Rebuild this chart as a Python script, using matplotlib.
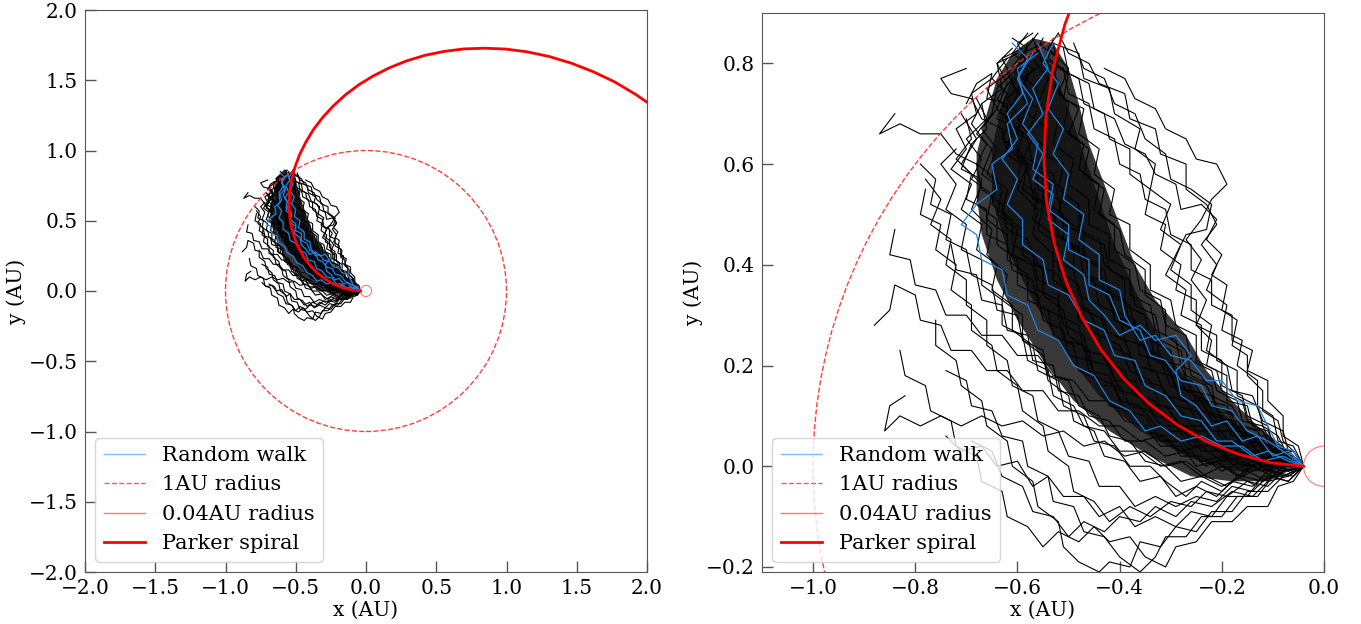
import matplotlib
matplotlib.use("Agg")
import matplotlib.pyplot as plt
from matplotlib.patches import Circle
from matplotlib.lines import Line2D

plt.rcParams['font.family'] = ['DejaVu Serif']
plt.rcParams['font.size'] = 14

# ---------------- data ----------------
walks_black = [
    [(-0.04,0.00),(-0.07,0.02),(-0.10,0.00),(-0.13,0.03),(-0.17,0.02),(-0.20,0.05),(-0.24,0.04),(-0.27,0.08),(-0.31,0.09),(-0.33,0.13),(-0.37,0.14),(-0.39,0.19),(-0.43,0.21),(-0.44,0.26),(-0.48,0.29),(-0.49,0.34),(-0.53,0.37),(-0.53,0.42),(-0.57,0.46),(-0.56,0.51),(-0.60,0.55),(-0.58,0.60),(-0.62,0.64),(-0.59,0.68),(-0.62,0.73),(-0.58,0.77),(-0.59,0.82),(-0.55,0.84)],
    [(-0.04,0.00),(-0.06,0.03),(-0.09,0.02),(-0.11,0.06),(-0.15,0.06),(-0.17,0.10),(-0.21,0.11),(-0.22,0.16),(-0.26,0.18),(-0.27,0.23),(-0.31,0.26),(-0.31,0.31),(-0.35,0.34),(-0.35,0.39),(-0.39,0.42),(-0.40,0.47),(-0.44,0.50),(-0.43,0.55),(-0.47,0.58),(-0.46,0.63),(-0.50,0.66),(-0.48,0.71),(-0.52,0.74),(-0.50,0.79),(-0.54,0.83),(-0.52,0.86)],
    [(-0.04,0.00),(-0.06,0.04),(-0.09,0.05),(-0.10,0.10),(-0.13,0.12),(-0.13,0.17),(-0.17,0.20),(-0.16,0.25),(-0.20,0.27),(-0.19,0.32),(-0.23,0.35),(-0.21,0.40),(-0.24,0.44),(-0.21,0.48),(-0.23,0.52),(-0.27,0.55),(-0.27,0.60),(-0.32,0.62),(-0.33,0.67),(-0.38,0.69),(-0.39,0.74),(-0.44,0.76),(-0.46,0.80),(-0.50,0.82),(-0.52,0.86)],
    [(-0.04,0.00),(-0.07,0.03),(-0.08,0.07),(-0.12,0.09),(-0.14,0.14),(-0.18,0.15),(-0.19,0.20),(-0.23,0.23),(-0.22,0.28),(-0.26,0.31),(-0.26,0.36),(-0.30,0.39),(-0.28,0.44),(-0.32,0.47),(-0.30,0.52),(-0.34,0.55),(-0.33,0.60),(-0.37,0.63),(-0.36,0.67),(-0.41,0.70),(-0.42,0.75),(-0.47,0.77),(-0.48,0.82),(-0.53,0.84)],
    [(-0.04,0.00),(-0.07,-0.02),(-0.11,-0.01),(-0.14,-0.04),(-0.18,-0.03),(-0.21,-0.06),(-0.25,-0.04),(-0.29,-0.06),(-0.32,-0.02),(-0.36,-0.03),(-0.39,0.01),(-0.43,0.02),(-0.45,0.07),(-0.49,0.09),(-0.50,0.14),(-0.54,0.17),(-0.55,0.22),(-0.59,0.25),(-0.59,0.30),(-0.63,0.33),(-0.62,0.38),(-0.66,0.42),(-0.65,0.47),(-0.69,0.51),(-0.67,0.56),(-0.71,0.60),(-0.68,0.65),(-0.71,0.70)],
    [(-0.04,0.00),(-0.08,-0.02),(-0.11,-0.05),(-0.15,-0.05),(-0.18,-0.09),(-0.22,-0.09),(-0.25,-0.13),(-0.29,-0.12),(-0.32,-0.16),(-0.36,-0.15),(-0.38,-0.20),(-0.42,-0.19),(-0.44,-0.21),(-0.48,-0.19),(-0.51,-0.16),(-0.52,-0.11),(-0.56,-0.08),(-0.57,-0.03),(-0.61,0.00),(-0.62,0.05),(-0.66,0.08),(-0.67,0.13),(-0.71,0.16),(-0.72,0.21),(-0.76,0.24),(-0.76,0.29)],
    [(-0.04,0.00),(-0.08,0.00),(-0.11,-0.03),(-0.15,-0.01),(-0.19,-0.04),(-0.23,-0.02),(-0.27,0.01),(-0.31,0.00),(-0.35,0.03),(-0.39,0.02),(-0.43,0.05),(-0.47,0.04),(-0.51,0.07),(-0.55,0.06),(-0.59,0.09),(-0.63,0.08),(-0.67,0.10),(-0.71,0.08),(-0.75,0.10),(-0.79,0.08),(-0.83,0.10),(-0.86,0.07),(-0.85,0.12),(-0.82,0.14)],
    [(-0.04,0.00),(-0.07,0.01),(-0.10,-0.02),(-0.14,0.00),(-0.17,-0.02),(-0.21,0.01),(-0.25,0.00),(-0.28,0.04),(-0.32,0.04),(-0.35,0.08),(-0.39,0.09),(-0.42,0.13),(-0.46,0.13),(-0.49,0.17),(-0.53,0.18),(-0.56,0.22),(-0.60,0.22),(-0.63,0.26),(-0.67,0.26),(-0.70,0.30),(-0.74,0.30),(-0.76,0.35),(-0.80,0.36),(-0.81,0.41),(-0.85,0.42),(-0.84,0.47)],
    [(-0.04,0.00),(-0.07,0.02),(-0.11,0.01),(-0.14,0.04),(-0.18,0.03),(-0.21,0.07),(-0.25,0.07),(-0.28,0.11),(-0.32,0.12),(-0.34,0.17),(-0.38,0.19),(-0.40,0.24),(-0.44,0.26),(-0.46,0.31),(-0.50,0.33),(-0.52,0.38),(-0.56,0.40),(-0.58,0.45),(-0.62,0.47),(-0.63,0.52),(-0.67,0.55),(-0.68,0.60),(-0.72,0.62),(-0.75,0.66),(-0.79,0.66),(-0.83,0.68),(-0.87,0.66),(-0.84,0.70)],
    [(-0.04,0.00),(-0.08,0.01),(-0.11,0.04),(-0.15,0.05),(-0.18,0.09),(-0.22,0.10),(-0.25,0.14),(-0.29,0.16),(-0.31,0.21),(-0.35,0.23),(-0.37,0.28),(-0.41,0.30),(-0.43,0.35),(-0.47,0.38),(-0.48,0.43),(-0.52,0.46),(-0.53,0.51),(-0.57,0.54),(-0.58,0.59),(-0.62,0.62),(-0.63,0.67),(-0.67,0.69),(-0.69,0.73),(-0.73,0.74),(-0.75,0.77),(-0.70,0.79)],
    [(-0.04,0.00),(-0.08,-0.01),(-0.12,0.01),(-0.16,-0.01),(-0.20,0.02),(-0.24,0.01),(-0.28,0.05),(-0.32,0.05),(-0.35,0.10),(-0.39,0.11),(-0.41,0.16),(-0.45,0.18),(-0.46,0.23),(-0.50,0.26),(-0.51,0.31),(-0.55,0.34),(-0.55,0.39),(-0.59,0.42),(-0.59,0.47),(-0.63,0.50),(-0.62,0.55),(-0.66,0.58),(-0.64,0.63),(-0.67,0.67),(-0.64,0.71),(-0.66,0.75),(-0.62,0.78)],
    [(-0.04,0.00),(-0.06,0.02),(-0.10,0.03),(-0.12,0.07),(-0.16,0.08),(-0.18,0.12),(-0.22,0.14),(-0.24,0.18),(-0.28,0.20),(-0.29,0.25),(-0.33,0.27),(-0.34,0.32),(-0.38,0.34),(-0.38,0.39),(-0.42,0.41),(-0.42,0.46),(-0.46,0.48),(-0.46,0.53),(-0.50,0.56),(-0.49,0.61),(-0.53,0.64),(-0.52,0.69),(-0.56,0.72),(-0.54,0.77),(-0.57,0.81),(-0.55,0.85)],
    [(-0.04,0.00),(-0.07,-0.01),(-0.10,0.02),(-0.14,0.01),(-0.17,0.05),(-0.21,0.04),(-0.24,0.08),(-0.28,0.08),(-0.31,0.12),(-0.35,0.12),(-0.37,0.17),(-0.41,0.17),(-0.43,0.22),(-0.47,0.23),(-0.48,0.28),(-0.52,0.30),(-0.52,0.35),(-0.56,0.37),(-0.57,0.42),(-0.61,0.44),(-0.61,0.49),(-0.65,0.52),(-0.64,0.57),(-0.68,0.60),(-0.66,0.64),(-0.69,0.68),(-0.67,0.72)],
    [(-0.04,0.00),(-0.08,0.03),(-0.11,0.02),(-0.14,0.06),(-0.18,0.06),(-0.20,0.10),(-0.24,0.11),(-0.26,0.15),(-0.30,0.16),(-0.32,0.21),(-0.36,0.22),(-0.37,0.27),(-0.41,0.29),(-0.42,0.34),(-0.46,0.36),(-0.46,0.41),(-0.50,0.44),(-0.50,0.49),(-0.54,0.51),(-0.53,0.56),(-0.57,0.59),(-0.56,0.64),(-0.60,0.67),(-0.58,0.72),(-0.61,0.76),(-0.58,0.80),(-0.60,0.84),(-0.57,0.86)],
    [(-0.04,0.00),(-0.07,-0.03),(-0.11,-0.02),(-0.14,-0.05),(-0.18,-0.04),(-0.21,-0.07),(-0.25,-0.06),(-0.29,-0.08),(-0.33,-0.06),(-0.37,-0.08),(-0.40,-0.04),(-0.44,-0.04),(-0.46,0.01),(-0.50,0.02),(-0.52,0.07),(-0.56,0.09),(-0.57,0.14),(-0.61,0.16),(-0.62,0.21),(-0.66,0.24),(-0.66,0.29),(-0.70,0.32),(-0.70,0.37),(-0.74,0.40),(-0.73,0.45),(-0.77,0.48),(-0.75,0.53),(-0.78,0.57)],
    [(-0.04,0.00),(-0.07,-0.03),(-0.10,-0.02),(-0.13,-0.06),(-0.17,-0.06),(-0.20,-0.10),(-0.24,-0.10),(-0.27,-0.14),(-0.31,-0.14),(-0.33,-0.18),(-0.36,-0.21),(-0.40,-0.18),(-0.43,-0.14),(-0.47,-0.13),(-0.49,-0.08),(-0.53,-0.07),(-0.54,-0.02),(-0.58,0.00),(-0.59,0.05),(-0.63,0.06),(-0.65,0.11),(-0.69,0.12),(-0.70,0.17),(-0.74,0.19)],
    [(-0.04,0.00),(-0.08,-0.02),(-0.12,-0.02),(-0.15,-0.06),(-0.19,-0.06),(-0.22,-0.10),(-0.26,-0.09),(-0.29,-0.12),(-0.33,-0.10),(-0.37,-0.12),(-0.40,-0.08),(-0.44,-0.10),(-0.47,-0.06),(-0.51,-0.06),(-0.54,-0.02),(-0.57,-0.04),(-0.60,0.01),(-0.64,0.00),(-0.67,0.04),(-0.71,0.03),(-0.74,0.06)],
    [(-0.04,0.00),(-0.06,0.03),(-0.10,0.04),(-0.11,0.08),(-0.15,0.10),(-0.16,0.14),(-0.20,0.16),(-0.20,0.21),(-0.24,0.23),(-0.24,0.28),(-0.28,0.30),(-0.27,0.35),(-0.31,0.38),(-0.29,0.42),(-0.27,0.46),(-0.23,0.47),(-0.22,0.52),(-0.26,0.55),(-0.30,0.57),(-0.31,0.62),(-0.35,0.65),(-0.37,0.70),(-0.41,0.72),(-0.43,0.77),(-0.47,0.79),(-0.49,0.84)],
    [(-0.04,0.00),(-0.05,0.04),(-0.08,0.06),(-0.08,0.10),(-0.11,0.13),(-0.11,0.17),(-0.15,0.19),(-0.14,0.23),(-0.18,0.25),(-0.18,0.30),(-0.22,0.32),(-0.22,0.37),(-0.26,0.39),(-0.26,0.44),(-0.30,0.46),(-0.31,0.51),(-0.35,0.53),(-0.36,0.58),(-0.40,0.60),(-0.41,0.65),(-0.45,0.67),(-0.46,0.72),(-0.50,0.74),(-0.51,0.79),(-0.55,0.81)],
    [(-0.04,0.00),(-0.08,0.01),(-0.12,-0.01),(-0.16,0.01),(-0.20,-0.01),(-0.24,0.02),(-0.28,0.02),(-0.31,0.06),(-0.35,0.07),(-0.38,0.11),(-0.42,0.12),(-0.44,0.17),(-0.48,0.19),(-0.49,0.24),(-0.53,0.26),(-0.54,0.31),(-0.58,0.33),(-0.58,0.38),(-0.62,0.41),(-0.62,0.46),(-0.66,0.49),(-0.65,0.54),(-0.69,0.57),(-0.67,0.61),(-0.70,0.65),(-0.66,0.69),(-0.68,0.73)],
    [(-0.04,0.00),(-0.07,0.02),(-0.11,0.02),(-0.13,0.06),(-0.17,0.07),(-0.19,0.11),(-0.23,0.12),(-0.25,0.16),(-0.29,0.18),(-0.30,0.23),(-0.34,0.25),(-0.35,0.30),(-0.39,0.32),(-0.39,0.37),(-0.43,0.40),(-0.44,0.45),(-0.48,0.47),(-0.48,0.52),(-0.52,0.55),(-0.51,0.60),(-0.55,0.62),(-0.54,0.67),(-0.58,0.70),(-0.56,0.75),(-0.60,0.78),(-0.58,0.83),(-0.61,0.85)],
    [(-0.04,0.00),(-0.08,0.00),(-0.11,0.03),(-0.15,0.03),(-0.18,0.07),(-0.22,0.07),(-0.25,0.11),(-0.29,0.12),(-0.32,0.16),(-0.36,0.17),(-0.38,0.22),(-0.42,0.24),(-0.43,0.29),(-0.47,0.31),(-0.48,0.36),(-0.52,0.39),(-0.52,0.44),(-0.56,0.47),(-0.55,0.52),(-0.59,0.55),(-0.58,0.60),(-0.62,0.63),(-0.61,0.68),(-0.64,0.71),(-0.62,0.76),(-0.64,0.80),(-0.61,0.83)],
    [(-0.04,0.00),(-0.07,0.03),(-0.10,0.04),(-0.12,0.08),(-0.16,0.09),(-0.17,0.13),(-0.21,0.15),(-0.22,0.19),(-0.26,0.21),(-0.27,0.26),(-0.31,0.28),(-0.32,0.33),(-0.36,0.35),(-0.37,0.40),(-0.41,0.43),(-0.41,0.48),(-0.45,0.51),(-0.44,0.56),(-0.48,0.59),(-0.47,0.64),(-0.51,0.67),(-0.50,0.72),(-0.53,0.76),(-0.52,0.81),(-0.56,0.84)],
    [(-0.04,0.00),(-0.08,-0.01),(-0.11,-0.04),(-0.15,-0.03),(-0.19,-0.06),(-0.23,-0.05),(-0.26,-0.08),(-0.30,-0.07),(-0.34,-0.10),(-0.38,-0.08),(-0.42,-0.11),(-0.45,-0.07),(-0.49,-0.05),(-0.50,0.00),(-0.54,0.03),(-0.55,0.08),(-0.59,0.11),(-0.60,0.16),(-0.64,0.19),(-0.65,0.24),(-0.69,0.27),(-0.69,0.32),(-0.73,0.35),(-0.72,0.40),(-0.76,0.43),(-0.75,0.48),(-0.79,0.50),(-0.78,0.55)],
    [(-0.04,0.00),(-0.06,0.03),(-0.09,0.03),(-0.11,0.07),(-0.14,0.08),(-0.15,0.12),(-0.19,0.13),(-0.19,0.18),(-0.23,0.20),(-0.22,0.25),(-0.25,0.28),(-0.23,0.33),(-0.26,0.37),(-0.24,0.41),(-0.27,0.45),(-0.24,0.49),(-0.22,0.53),(-0.19,0.56),(-0.21,0.60),(-0.25,0.61),(-0.27,0.65),(-0.31,0.67),(-0.33,0.71),(-0.37,0.73),(-0.39,0.77),(-0.43,0.79)],
    [(-0.04,0.00),(-0.08,0.02),(-0.12,0.00),(-0.15,0.03),(-0.19,0.02),(-0.22,0.06),(-0.26,0.05),(-0.29,0.09),(-0.33,0.10),(-0.36,0.14),(-0.40,0.15),(-0.42,0.20),(-0.46,0.21),(-0.47,0.26),(-0.51,0.28),(-0.52,0.33),(-0.56,0.35),(-0.57,0.40),(-0.61,0.42),(-0.60,0.47),(-0.64,0.50),(-0.63,0.55),(-0.67,0.58),(-0.65,0.63),(-0.68,0.66),(-0.65,0.70),(-0.64,0.75),(-0.60,0.79),(-0.58,0.84)],
    [(-0.04,0.00),(-0.07,0.01),(-0.11,0.00),(-0.14,0.03),(-0.18,0.04),(-0.21,0.08),(-0.25,0.09),(-0.27,0.13),(-0.31,0.14),(-0.33,0.19),(-0.37,0.20),(-0.39,0.25),(-0.43,0.27),(-0.44,0.32),(-0.48,0.34),(-0.49,0.39),(-0.53,0.41),(-0.53,0.46),(-0.57,0.49),(-0.56,0.54),(-0.60,0.57),(-0.59,0.62),(-0.63,0.65),(-0.61,0.70),(-0.64,0.73),(-0.61,0.77),(-0.63,0.81),(-0.59,0.83)],
    [(-0.04,0.00),(-0.08,-0.02),(-0.12,0.00),(-0.16,-0.02),(-0.20,0.00),(-0.24,-0.02),(-0.28,0.01),(-0.32,0.00),(-0.36,0.03),(-0.40,0.03),(-0.43,0.07),(-0.47,0.08),(-0.49,0.12),(-0.53,0.14),(-0.54,0.19),(-0.58,0.21),(-0.59,0.26),(-0.63,0.28),(-0.63,0.33),(-0.67,0.36),(-0.67,0.41),(-0.71,0.43),(-0.70,0.48),(-0.74,0.51),(-0.72,0.56),(-0.75,0.60),(-0.72,0.63)],
    [(-0.04,0.00),(-0.06,-0.03),(-0.09,-0.04),(-0.11,-0.08),(-0.15,-0.08),(-0.18,-0.11),(-0.22,-0.11),(-0.25,-0.15),(-0.29,-0.16),(-0.31,-0.20),(-0.35,-0.18),(-0.38,-0.14),(-0.42,-0.15),(-0.45,-0.12),(-0.48,-0.15),(-0.52,-0.13),(-0.55,-0.16),(-0.58,-0.12),(-0.62,-0.10),(-0.63,-0.05),(-0.67,-0.03),(-0.68,0.02),(-0.72,0.04),(-0.73,0.09),(-0.77,0.11),(-0.78,0.16),(-0.82,0.18),(-0.83,0.23)],
    [(-0.04,0.00),(-0.07,0.02),(-0.09,0.06),(-0.12,0.08),(-0.13,0.12),(-0.17,0.14),(-0.17,0.19),(-0.21,0.21),(-0.21,0.26),(-0.25,0.28),(-0.25,0.33),(-0.29,0.35),(-0.28,0.40),(-0.32,0.43),(-0.31,0.48),(-0.35,0.50),(-0.34,0.55),(-0.38,0.58),(-0.38,0.63),(-0.42,0.65),(-0.43,0.70),(-0.47,0.72),(-0.48,0.77),(-0.52,0.79),(-0.53,0.84)],
    [(-0.04,0.00),(-0.08,0.01),(-0.12,0.00),(-0.16,0.02),(-0.20,0.01),(-0.24,0.04),(-0.28,0.03),(-0.32,0.06),(-0.36,0.05),(-0.40,0.08),(-0.44,0.08),(-0.48,0.11),(-0.52,0.11),(-0.55,0.15),(-0.59,0.15),(-0.62,0.19),(-0.66,0.19),(-0.69,0.23),(-0.73,0.23),(-0.75,0.28),(-0.79,0.29),(-0.80,0.34),(-0.84,0.36),(-0.85,0.31),(-0.88,0.28)],
    [(-0.04,0.00),(-0.07,0.01),(-0.10,0.04),(-0.14,0.04),(-0.17,0.08),(-0.21,0.09),(-0.23,0.13),(-0.27,0.15),(-0.29,0.19),(-0.33,0.21),(-0.34,0.26),(-0.38,0.28),(-0.39,0.33),(-0.43,0.35),(-0.44,0.40),(-0.48,0.42),(-0.48,0.47),(-0.52,0.50),(-0.51,0.55),(-0.55,0.58),(-0.54,0.63),(-0.58,0.66),(-0.56,0.71),(-0.60,0.74),(-0.57,0.79),(-0.61,0.82),(-0.58,0.86)],
    [(-0.04,0.00),(-0.06,-0.02),(-0.10,-0.01),(-0.13,-0.04),(-0.17,-0.02),(-0.20,-0.05),(-0.24,-0.03),(-0.27,-0.06),(-0.31,-0.03),(-0.34,0.00),(-0.38,0.00),(-0.41,0.04),(-0.45,0.05),(-0.47,0.10),(-0.51,0.12),(-0.52,0.17),(-0.56,0.19),(-0.57,0.24),(-0.61,0.27),(-0.61,0.32),(-0.65,0.35),(-0.64,0.40),(-0.68,0.43),(-0.67,0.48),(-0.71,0.51),(-0.69,0.56),(-0.73,0.59),(-0.70,0.63),(-0.72,0.67),(-0.68,0.70),(-0.69,0.74),(-0.65,0.77)],
    [(-0.04,0.00),(-0.07,0.02),(-0.11,0.03),(-0.13,0.07),(-0.17,0.08),(-0.19,0.12),(-0.23,0.13),(-0.26,0.17),(-0.30,0.18),(-0.32,0.22),(-0.36,0.24),(-0.37,0.29),(-0.41,0.31),(-0.42,0.36),(-0.46,0.38),(-0.47,0.43),(-0.51,0.45),(-0.51,0.50),(-0.55,0.53),(-0.55,0.58),(-0.59,0.61),(-0.57,0.65),(-0.60,0.69),(-0.57,0.73),(-0.59,0.77),(-0.55,0.80),(-0.57,0.85)],
    [(-0.04,0.00),(-0.08,0.00),(-0.12,0.02),(-0.16,0.00),(-0.20,0.03),(-0.24,0.03),(-0.27,0.07),(-0.31,0.07),(-0.34,0.11),(-0.38,0.12),(-0.40,0.16),(-0.44,0.16),(-0.46,0.21),(-0.50,0.22),(-0.51,0.27),(-0.55,0.29),(-0.56,0.34),(-0.60,0.36),(-0.60,0.41),(-0.64,0.44),(-0.64,0.49),(-0.68,0.52),(-0.67,0.57),(-0.71,0.59),(-0.69,0.64),(-0.66,0.67),(-0.67,0.72),(-0.63,0.75),(-0.64,0.80),(-0.60,0.82)],
    [(-0.04,0.00),(-0.07,0.03),(-0.10,0.03),(-0.12,0.07),(-0.15,0.09),(-0.16,0.13),(-0.20,0.15),(-0.21,0.19),(-0.25,0.21),(-0.25,0.26),(-0.29,0.28),(-0.30,0.33),(-0.34,0.35),(-0.34,0.40),(-0.38,0.43),(-0.38,0.48),(-0.42,0.50),(-0.41,0.55),(-0.45,0.58),(-0.44,0.63),(-0.48,0.66),(-0.47,0.71),(-0.51,0.73),(-0.50,0.78),(-0.54,0.81),(-0.53,0.85)],
    [(-0.04,0.00),(-0.08,-0.01),(-0.12,-0.03),(-0.16,-0.02),(-0.20,-0.04),(-0.24,-0.02),(-0.28,-0.03),(-0.31,0.00),(-0.35,0.01),(-0.38,0.05),(-0.42,0.06),(-0.44,0.10),(-0.48,0.12),(-0.50,0.17),(-0.54,0.18),(-0.55,0.23),(-0.59,0.25),(-0.60,0.30),(-0.64,0.31),(-0.65,0.36),(-0.69,0.38),(-0.70,0.43),(-0.74,0.45),(-0.73,0.50),(-0.77,0.52),(-0.76,0.57),(-0.79,0.60)],
    [(-0.04,0.00),(-0.07,0.01),(-0.10,0.04),(-0.14,0.05),(-0.17,0.09),(-0.20,0.09),(-0.22,0.14),(-0.26,0.15),(-0.28,0.20),(-0.32,0.21),(-0.33,0.26),(-0.37,0.27),(-0.38,0.32),(-0.42,0.34),(-0.43,0.39),(-0.47,0.41),(-0.47,0.46),(-0.51,0.48),(-0.52,0.53),(-0.56,0.55),(-0.56,0.60),(-0.60,0.62),(-0.60,0.67),(-0.64,0.69),(-0.62,0.74),(-0.65,0.77),(-0.62,0.81)],
    [(-0.04,0.00),(-0.06,0.02),(-0.09,0.01),(-0.12,0.05),(-0.16,0.04),(-0.18,0.08),(-0.22,0.09),(-0.24,0.13),(-0.28,0.13),(-0.30,0.18),(-0.34,0.19),(-0.35,0.24),(-0.39,0.25),(-0.40,0.30),(-0.44,0.32),(-0.45,0.37),(-0.49,0.39),(-0.49,0.44),(-0.53,0.46),(-0.53,0.51),(-0.57,0.53),(-0.56,0.58),(-0.60,0.61),(-0.59,0.66),(-0.62,0.69),(-0.60,0.74),(-0.62,0.78),(-0.59,0.82),(-0.56,0.86)],
    [(-0.04,0.00),(-0.07,-0.01),(-0.11,0.01),(-0.15,0.00),(-0.19,0.02),(-0.23,0.00),(-0.27,0.03),(-0.31,0.02),(-0.35,0.05),(-0.39,0.05),(-0.42,0.09),(-0.46,0.10),(-0.48,0.14),(-0.52,0.15),(-0.53,0.20),(-0.57,0.21),(-0.58,0.26),(-0.62,0.27),(-0.63,0.32),(-0.67,0.33),(-0.68,0.38),(-0.72,0.39),(-0.73,0.44)],
    [(-0.04,0.00),(-0.08,0.02),(-0.11,0.05),(-0.15,0.06),(-0.17,0.10),(-0.21,0.12),(-0.23,0.16),(-0.27,0.18),(-0.28,0.23),(-0.32,0.25),(-0.33,0.30),(-0.37,0.32),(-0.38,0.37),(-0.42,0.39),(-0.43,0.44),(-0.47,0.46),(-0.48,0.51),(-0.52,0.53),(-0.53,0.58),(-0.57,0.60),(-0.58,0.65),(-0.62,0.67),(-0.62,0.72),(-0.66,0.73),(-0.65,0.78),(-0.68,0.76),(-0.70,0.72)],
    [(-0.04,0.00),(-0.06,0.03),(-0.08,0.05),(-0.09,0.09),(-0.12,0.11),(-0.12,0.15),(-0.15,0.18),(-0.15,0.22),(-0.18,0.24),(-0.17,0.29),(-0.20,0.31),(-0.19,0.36),(-0.22,0.38),(-0.20,0.42),(-0.23,0.45),(-0.21,0.49),(-0.24,0.52),(-0.28,0.51),(-0.29,0.56),(-0.33,0.58),(-0.35,0.62),(-0.39,0.64),(-0.41,0.69),(-0.45,0.71),(-0.46,0.76),(-0.50,0.78),(-0.51,0.83)],
    [(-0.04,0.00),(-0.07,-0.02),(-0.11,-0.03),(-0.14,-0.06),(-0.18,-0.05),(-0.22,-0.08),(-0.26,-0.07),(-0.29,-0.10),(-0.33,-0.08),(-0.36,-0.11),(-0.40,-0.10),(-0.43,-0.13),(-0.47,-0.11),(-0.50,-0.14),(-0.53,-0.10),(-0.57,-0.09),(-0.59,-0.04),(-0.63,-0.02),(-0.65,0.03),(-0.69,0.05)],
    [(-0.04,0.00),(-0.08,0.01),(-0.11,-0.01),(-0.15,0.02),(-0.18,0.01),(-0.22,0.04),(-0.26,0.04),(-0.29,0.08),(-0.33,0.08),(-0.36,0.12),(-0.40,0.13),(-0.42,0.18),(-0.46,0.19),(-0.47,0.24),(-0.51,0.25),(-0.52,0.30),(-0.56,0.32),(-0.57,0.37),(-0.61,0.39),(-0.62,0.44),(-0.66,0.46),(-0.66,0.51),(-0.70,0.53),(-0.69,0.58),(-0.72,0.61),(-0.69,0.65),(-0.70,0.69)],
]

walks_blue = [
    [(-0.04,0.00),(-0.07,0.03),(-0.10,0.02),(-0.13,0.06),(-0.16,0.05),(-0.19,0.09),(-0.22,0.08),(-0.25,0.12),(-0.28,0.14),(-0.29,0.19),(-0.26,0.22),(-0.29,0.26),(-0.33,0.25),(-0.36,0.28),(-0.40,0.26),(-0.43,0.30),(-0.46,0.33),(-0.47,0.38),(-0.51,0.41),(-0.50,0.46),(-0.54,0.49),(-0.53,0.54),(-0.57,0.57),(-0.55,0.62),(-0.58,0.66),(-0.55,0.70),(-0.57,0.75),(-0.54,0.79),(-0.56,0.84)],
    [(-0.04,0.00),(-0.06,0.03),(-0.09,0.04),(-0.11,0.08),(-0.13,0.12),(-0.17,0.13),(-0.20,0.17),(-0.23,0.17),(-0.26,0.21),(-0.30,0.22),(-0.33,0.26),(-0.36,0.25),(-0.39,0.30),(-0.40,0.35),(-0.44,0.37),(-0.44,0.42),(-0.48,0.45),(-0.47,0.50),(-0.51,0.53),(-0.50,0.58),(-0.53,0.62),(-0.51,0.67),(-0.54,0.71),(-0.52,0.76),(-0.55,0.80),(-0.53,0.84)],
    [(-0.04,0.00),(-0.08,0.02),(-0.12,0.01),(-0.16,0.04),(-0.20,0.04),(-0.24,0.06),(-0.28,0.05),(-0.32,0.08),(-0.35,0.07),(-0.38,0.11),(-0.42,0.13),(-0.45,0.18),(-0.49,0.20),(-0.52,0.25),(-0.56,0.27),(-0.58,0.32),(-0.62,0.34),(-0.63,0.39),(-0.67,0.41),(-0.68,0.46),(-0.71,0.48),(-0.68,0.52),(-0.64,0.55),(-0.65,0.60),(-0.61,0.63),(-0.62,0.68),(-0.58,0.72),(-0.60,0.77),(-0.57,0.82)],
    [(-0.04,0.00),(-0.07,0.01),(-0.11,0.03),(-0.14,0.02),(-0.18,0.05),(-0.21,0.05),(-0.24,0.09),(-0.28,0.10),(-0.31,0.14),(-0.35,0.16),(-0.37,0.21),(-0.41,0.22),(-0.43,0.27),(-0.47,0.29),(-0.50,0.34),(-0.54,0.36),(-0.55,0.41),(-0.59,0.44),(-0.59,0.49),(-0.62,0.52),(-0.60,0.57),(-0.63,0.61),(-0.60,0.65),(-0.62,0.70),(-0.59,0.74),(-0.60,0.79),(-0.56,0.82)],
    [(-0.04,0.00),(-0.08,0.03),(-0.11,0.05),(-0.15,0.07),(-0.18,0.11),(-0.22,0.12),(-0.24,0.16),(-0.28,0.17),(-0.31,0.21),(-0.34,0.22),(-0.36,0.27),(-0.40,0.29),(-0.42,0.34),(-0.46,0.36),(-0.46,0.41),(-0.50,0.43),(-0.50,0.48),(-0.54,0.51),(-0.53,0.56),(-0.57,0.59),(-0.56,0.64),(-0.59,0.68),(-0.57,0.73),(-0.60,0.77),(-0.58,0.81),(-0.61,0.84)],
]

# outlines of the regions where the walks overlap into an almost solid mass
core_outer_x = [-0.05, -0.08, -0.13, -0.18, -0.23, -0.27, -0.33, -0.37, -0.40, -0.43, -0.46, -0.48,
                -0.50, -0.53, -0.57, -0.61, -0.64, -0.66, -0.68, -0.68, -0.67, -0.64, -0.60, -0.55,
                -0.49, -0.42, -0.34, -0.26, -0.18, -0.11, -0.05]
core_outer_y = [0.00, 0.04, 0.08, 0.13, 0.19, 0.26, 0.33, 0.40, 0.48, 0.56, 0.64, 0.72,
                0.79, 0.84, 0.85, 0.82, 0.77, 0.70, 0.62, 0.54, 0.46, 0.37, 0.29, 0.21,
                0.13, 0.07, 0.02, -0.02, -0.03, -0.03, 0.00]
core_inner_x = [-0.06, -0.12, -0.18, -0.24, -0.29, -0.33, -0.37, -0.41, -0.44, -0.47, -0.50, -0.53,
                -0.56, -0.60, -0.63, -0.65, -0.65, -0.62, -0.57, -0.51, -0.44, -0.36, -0.27, -0.18,
                -0.10, -0.06]
core_inner_y = [0.01, 0.05, 0.09, 0.14, 0.20, 0.27, 0.35, 0.44, 0.53, 0.62, 0.71, 0.79,
                0.83, 0.80, 0.72, 0.63, 0.53, 0.43, 0.33, 0.23, 0.14, 0.07, 0.02, -0.01,
                -0.01, 0.01]

spiral_x = [-0.040, -0.105, -0.168, -0.230, -0.288, -0.343, -0.393, -0.437, -0.474, -0.505,
            -0.528, -0.543, -0.548, -0.544, -0.531, -0.507, -0.473, -0.428, -0.374, -0.308,
            -0.232, -0.147, -0.051, 0.054, 0.167, 0.289, 0.418, 0.554, 0.696, 0.843,
            0.994, 1.148, 1.304, 1.460, 1.617, 1.772, 1.923, 2.071]
spiral_y = [0.000, 0.007, 0.024, 0.049, 0.083, 0.125, 0.175, 0.232, 0.296, 0.367,
            0.443, 0.524, 0.609, 0.697, 0.787, 0.878, 0.970, 1.060, 1.149, 1.236,
            1.318, 1.396, 1.468, 1.532, 1.589, 1.638, 1.677, 1.705, 1.723, 1.728,
            1.722, 1.702, 1.669, 1.622, 1.561, 1.487, 1.397, 1.294]

r_1au = 1.0
r_004au = 0.04

legend_labels = ["Random walk", "1AU radius", "0.04AU radius", "Parker spiral"]

left_ticks = [-2.0, -1.5, -1.0, -0.5, 0.0, 0.5, 1.0, 1.5, 2.0]
right_xticks = [-1.0, -0.8, -0.6, -0.4, -0.2, 0.0]
right_yticks = [-0.2, 0.0, 0.2, 0.4, 0.6, 0.8]

# ---------------- drawing ----------------
fig = plt.figure(figsize=(13.61, 6.24), dpi=100)
ax1 = fig.add_axes([85/1361, 1-572/624, 562/1361, 562/624])
ax2 = fig.add_axes([762/1361, 1-572/624, 562/1361, 559/624])

BLUE = '#2184e4'
spine_col = '#555555'

def draw(ax, lw_black):
    ax.fill(core_outer_x, core_outer_y, color='black', alpha=0.78, lw=0, zorder=1)
    ax.fill(core_inner_x, core_inner_y, color='black', alpha=0.6, lw=0, zorder=1)
    for w in walks_black:
        xs = [p[0] for p in w]
        ys = [p[1] for p in w]
        ax.plot(xs, ys, color='black', lw=lw_black, zorder=2)
    for w in walks_blue:
        xs = [p[0] for p in w]
        ys = [p[1] for p in w]
        ax.plot(xs, ys, color=BLUE, lw=0.9, zorder=3)
    ax.add_patch(Circle((0, 0), r_1au, fill=False, ls='--', lw=1.0,
                        edgecolor='#ff2a2a', alpha=0.9, zorder=4))
    ax.add_patch(Circle((0, 0), r_004au, fill=False, lw=0.8,
                        edgecolor='#ff6a6a', alpha=0.9, zorder=4))
    ax.plot(spiral_x, spiral_y, color='red', lw=2.0, zorder=5)
    for s in ax.spines.values():
        s.set_color(spine_col)
    ax.tick_params(direction='in', length=8, width=1, color=spine_col,
                   labelsize=14.5, pad=5)
    ax.set_xlabel('x (AU)', fontsize=14.5, labelpad=2)
    ax.set_ylabel('y (AU)', fontsize=14.5, labelpad=2)
    handles = [Line2D([], [], color='#7cbcff', lw=1.0),
               Line2D([], [], color='#ff5a5a', lw=1.0, ls='--'),
               Line2D([], [], color='#ff7878', lw=1.0),
               Line2D([], [], color='red', lw=2.0)]
    ax.legend(handles, legend_labels, loc='lower left', fontsize=15,
              framealpha=0.8, handlelength=2.0)

draw(ax1, 0.8)
ax1.set_xlim(-2, 2)
ax1.set_ylim(-2, 2)
ax1.set_xticks(left_ticks)
ax1.set_yticks(left_ticks)

draw(ax2, 0.8)
ax2.set_xlim(-1.1, 0.0)
ax2.set_ylim(-0.21, 0.9)
ax2.set_xticks(right_xticks)
ax2.set_yticks(right_yticks)

fig.savefig('out.png', dpi=100)
